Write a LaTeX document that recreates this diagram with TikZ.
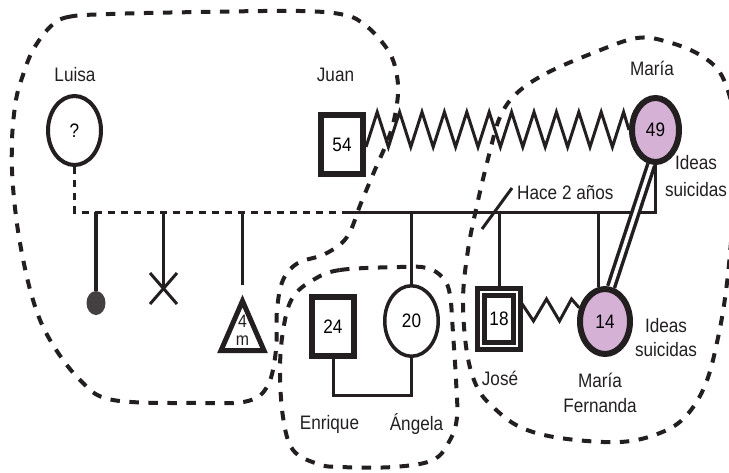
\documentclass[tikz,border=0pt]{standalone}
\usepackage{fontspec}
\setmainfont{Liberation Sans}[FakeStretch=0.88]
\usetikzlibrary{shapes.geometric, calc}

\definecolor{ink}{RGB}{35,31,32}
\definecolor{mauve}{RGB}{213,178,213}
\definecolor{dot}{RGB}{68,64,65}

\begin{document}
\begin{tikzpicture}[
    x=1pt, y=-1pt,
    font=\fontsize{19.5}{23}\selectfont,
    female/.style={draw=ink, ellipse, line width=4, inner sep=0, minimum width=53, minimum height=69},
    male/.style={draw=ink, rectangle, line width=6, inner sep=0, minimum width=42, minimum height=59},
    index/.style={fill=mauve, line width=6},
    tag/.style={anchor=base, inner sep=0, text=ink},
    twoline/.style={align=center, inner sep=0, text=ink},
    kinline/.style={draw=ink, line width=3},
    boundary/.style={draw=ink, line width=4, dash pattern=on 9.5pt off 9.5pt}
]
\useasboundingbox (0,0) rectangle (729,472);

% people
\node[female] (luisa) at (74.5,130.5) {?};
\node[male] (juan) at (342,144.5) {54};
\node[female, index, minimum width=47, minimum height=64] (maria) at (655.5,130) {49};
\node[male] (enrique) at (333,326.5) {24};
\node[female, line width=3.5, minimum width=53.5, minimum height=70.5] (angela) at (411.5,321) {20};
\node[male, double, double distance=2, line width=5, minimum width=36, minimum height=54] (jose) at (499,319) {18};
\node[female, index, minimum width=50, minimum height=65] (mafe) at (605,321.5) {14};
\node[ellipse, fill=dot, inner sep=0, minimum width=19, minimum height=24] (ball) at (96,303) {};
\coordinate (abort) at (163.5,288.5);
\node[twoline, font=\fontsize{18}{18}\selectfont] (loss) at (242.5,330) {4\\m};
\draw[ink, line width=5, line join=miter] (242.5,301) -- (264,350.5) -- (221,350.5) -- cycle;

% names
\node[tag] at (75,81) {Luisa};
\node[tag] at (335.5,81) {Juan};
\node[tag] at (652,75) {María};
\node[twoline, font=\fontsize{19.5}{27}\selectfont] at (696,176.4) {Ideas\\suicidas};
\node[tag] at (329.5,429) {Enrique};
\node[tag] at (416.5,430) {Ángela};
\node[tag] at (500,385) {José};
\node[twoline, font=\fontsize{19.5}{25}\selectfont] at (600,393.4) {María\\Fernanda};
\node[twoline, font=\fontsize{19.5}{24}\selectfont] at (666,337.9) {Ideas\\suicidas};
\node[tag, anchor=base west] (ago) at (517,199) {Hace 2 años};

% couple and sibship lines
\coordinate (sib) at (0,212);
\draw[kinline, dash pattern=on 7pt off 6pt] (luisa) |- (juan |- sib);
\draw[kinline] (juan |- sib) -| (maria);
\draw[kinline, line width=4] (ball |- sib) -- (ball);
\draw[kinline] (abort |- sib) -- (abort);
\draw[kinline] ($(abort)+(-13.5,-15.5)$) -- ($(abort)+(13.5,15.5)$);
\draw[kinline] ($(abort)+(13.5,-15.5)$) -- ($(abort)+(-13.5,15.5)$);
\coordinate (lossTop) at (242.5,285);
\draw[kinline] (lossTop |- sib) -- (lossTop);
\draw[kinline] (angela |- sib) -- (angela);
\draw[kinline] (jose |- sib) -- (jose);
\draw[kinline] (mafe.100 |- sib) -- (mafe.100);
\draw[kinline] (enrique.south) -- ++(0,36) -| (angela.south);

% separation mark
\coordinate (cutA) at (482,229);
\coordinate (cutB) at (512,188);
\draw[kinline] (cutA) -- (cutB);

% conflict and closeness
\draw[kinline, line join=miter] ($(juan.east)+(0,2.5)$)
    \foreach \k in {1,...,11} { -- ++(11.2,-35) -- ++(11.2,35) } -- ++(11.2,-35) -- (maria.west);
\draw[kinline, line join=miter] ($(jose.east)+(0,-19)$) -- ++(14,21) -- ++(13,-22) -- ++(13,22) -- ++(12,-22) -- (mafe.152);
\draw[ink, line width=3.5, double=white, double distance=3.5] (maria.-97) -- (mafe.80);

% household boundaries
\draw[boundary] plot[smooth cycle, tension=0.6] coordinates {
    (50,27) (68,17) (110,14) (200,12) (300,11) (345,15) (365,25) (382,42) (393,60) (398,85)
    (396,110) (389,137) (374,172) (361,203) (347,237) (325,254) (298,263) (283,280)
    (277,310) (276,350) (268,385) (248,401) (200,403) (113,400) (80,380) (50,340)
    (33,300) (20,243) (13,187) (12,140) (16,100) (23,75) (33,50)};
\draw[boundary] plot[smooth cycle, tension=0.6] coordinates {
    (313,280) (340,270) (400,267) (427,268) (443,278) (450,295) (453,333) (456,380)
    (457,417) (450,440) (433,460) (393,467) (340,467) (318,464) (293,450) (283,417)
    (280,367) (284,325) (293,297)};
\draw[boundary] plot[smooth cycle, tension=0.6] coordinates {
    (517,93) (547,73) (593,53) (637,38) (668,42) (700,55) (722,76) (735,120) (738,170)
    (733,220) (727,283) (719,333) (706,383) (686,416) (660,433) (620,442) (560,438)
    (520,427) (493,407) (477,387) (467,353) (463,300) (468,250) (477,205) (489,155) (500,117)};
\end{tikzpicture}
\end{document}
